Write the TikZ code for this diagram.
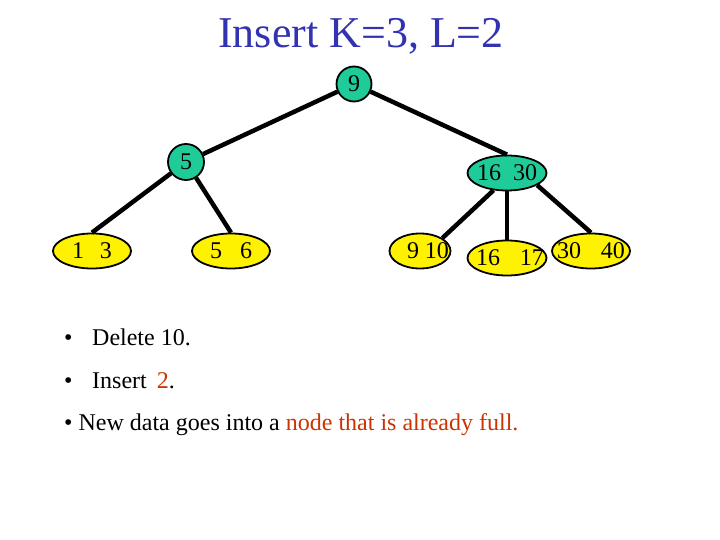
\documentclass[tikz,border=0pt]{standalone}
\usepackage{fontspec}
\setmainfont{Liberation Serif}
\usetikzlibrary{shapes.geometric}
\definecolor{keygreen}{RGB}{31,204,153}
\definecolor{titleblue}{RGB}{51,51,178}
\definecolor{hilite}{RGB}{204,51,0}
\def\bodysize{\fontsize{24}{28}\selectfont}
\def\keys#1{\makebox[0pt]{#1}}

\begin{document}
\begin{tikzpicture}[x=1pt, y=-1pt,
		inner/.style={draw, line width=1.8pt, fill=keygreen, inner sep=0pt, font=\bodysize},
		leaf/.style={draw, ellipse, line width=1.8pt, fill=yellow, inner sep=0pt,
			minimum width=78pt, minimum height=35pt, font=\bodysize},
		edge/.style={line width=4.5pt}]
		%%%%% START %%%%%
		\useasboundingbox[fill=white] (0, 0) rectangle (720, 540);
		
		\node[anchor=base, text=titleblue, font=\fontsize{44}{50}\selectfont] (title) at (361, 48) {Insert K=3, L=2};
		
		% inner nodes
		\node[inner, circle, minimum size=35pt] (root) at (354, 84) {\keys{9}};
		\node[inner, circle, minimum size=36pt] (n5) at (186, 162) {\keys{5}};
		\node[inner, ellipse, minimum width=79pt, minimum height=35pt] (n1630) at (507, 173) {\keys{16\hspace{12pt}30}};
		
		% leaves
		\node[leaf] (n13) at (92, 251) {\keys{1\hspace{16pt}3}};
		\node[leaf] (n56) at (231, 251) {\keys{5\hspace{18pt}6}};
		\node[leaf, minimum width=61pt] (n910) at (420, 251) {\keys{\hspace{16pt}9 10}};
		\node[leaf, minimum width=79pt] (n1617) at (507, 258) {\keys{\hspace{6pt}16\hspace{20pt}17}};
		\node[leaf] (n3040) at (591, 251) {\keys{30\hspace{20pt}40}};
		
		% edges
		\draw[edge] (root) -- (n5);
		\draw[edge] (root) -- (n1630.north);
		\draw[edge] (n5) -- (n13.north);
		\draw[edge] (n5) -- (n56.north);
		\draw[edge] (n1630.232) -- (n910.30);
		\draw[edge] (n1630.south) -- (n1617.north);
		\draw[edge] (n1630.338) -- (n3040.north);
		
		% text lines
		\node[anchor=base west, inner sep=0pt, font=\bodysize] (line1) at (64, 345) {\textbullet\hspace{19.6pt}Delete 10.};
		\node[anchor=base west, inner sep=0pt, font=\bodysize] (line2) at (64, 388) {\textbullet\hspace{19.6pt}Insert\hspace{10pt}\textcolor{hilite}{2}.};
		\node[anchor=base west, inner sep=0pt, font=\bodysize] (line3) at (64, 430) {\textbullet{} New data goes into a \textcolor{hilite}{node that is already full.}};
		%%%%% END %%%%%
\end{tikzpicture}
\end{document}
